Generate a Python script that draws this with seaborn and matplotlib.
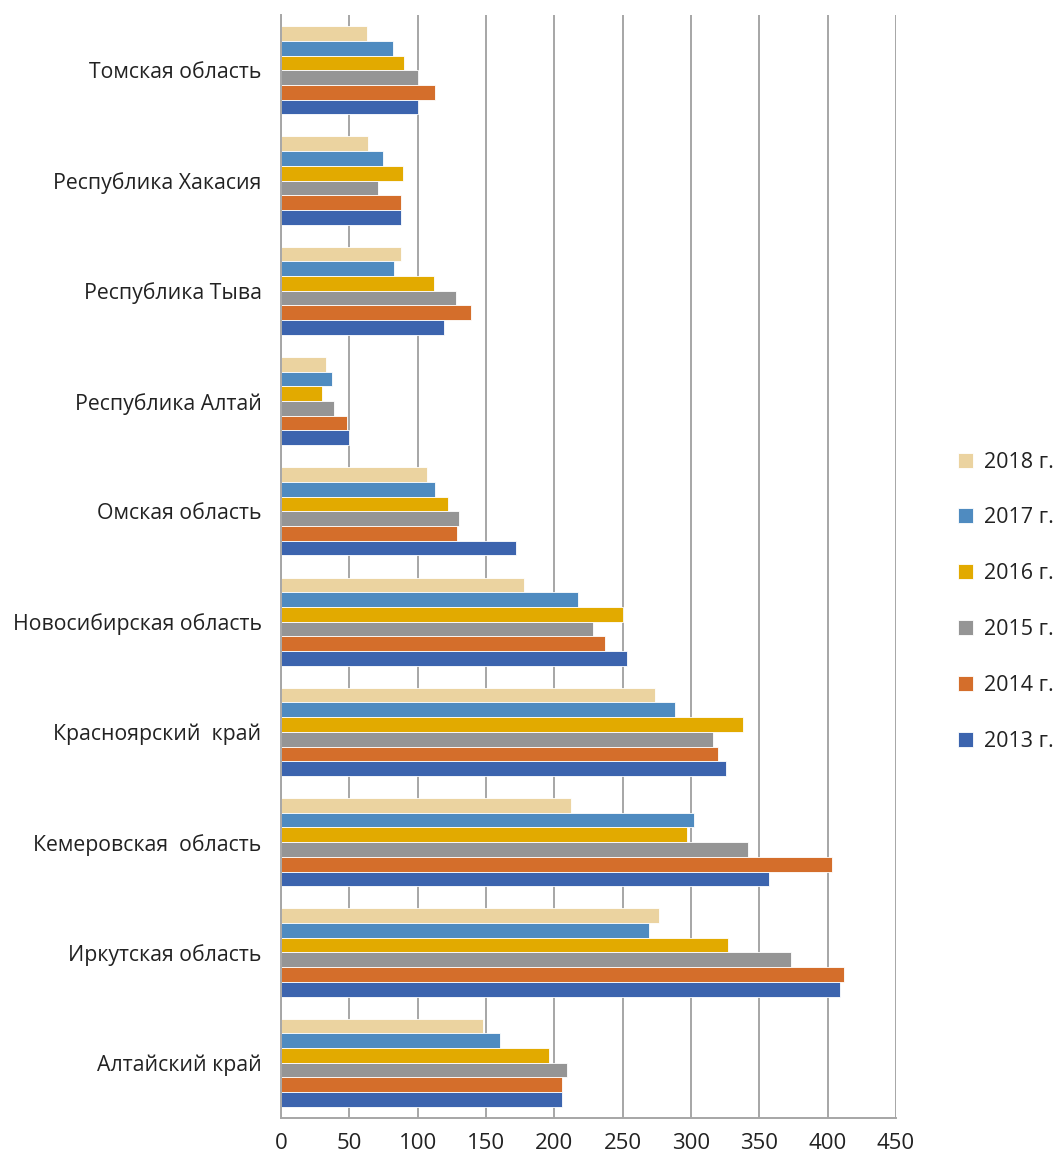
import numpy as np
import pandas as pd
import matplotlib
matplotlib.use('Agg')
import matplotlib.pyplot as plt
from matplotlib.ticker import FixedLocator
import seaborn as sns

# Регионы (сверху вниз) и годы
regions = ['Томская область', 'Республика Хакасия', 'Республика Тыва',
           'Республика Алтай', 'Омская область', 'Новосибирская область',
           'Красноярский  край', 'Кемеровская  область', 'Иркутская область',
           'Алтайский край']
years = ['2018 г.', '2017 г.', '2016 г.', '2015 г.', '2014 г.', '2013 г.']

v2013 = [100, 88, 119, 50, 172, 253, 326, 357, 409, 206]
v2014 = [113, 88, 139, 48, 129, 237, 320, 403, 412, 206]
v2015 = [100, 71, 128, 39, 130, 228, 316, 342, 373, 209]
v2016 = [90, 89, 112, 30, 122, 250, 338, 297, 327, 196]
v2017 = [82, 75, 83, 37, 113, 217, 288, 302, 269, 160]
v2018 = [63, 64, 88, 33, 107, 178, 274, 212, 277, 148]

colors = ['#EBD3A0', '#4F8BC0', '#E2AA00', '#959595', '#D46E2B', '#3C64AE']

values = {'2013 г.': v2013, '2014 г.': v2014, '2015 г.': v2015,
          '2016 г.': v2016, '2017 г.': v2017, '2018 г.': v2018}
rows = []
for y in years:
    for r, v in zip(regions, values[y]):
        rows.append({'region': r, 'year': y, 'value': v})
df = pd.DataFrame(rows)

sns.set_style('white')
plt.rcParams['font.family'] = ['Open Sans', 'DejaVu Sans']

fig = plt.figure(figsize=(10.59, 11.62), dpi=100)
ax = fig.add_axes([0.2653, 0.038, 0.5807, 0.949])

sns.barplot(data=df, y='region', x='value', hue='year', order=regions,
            hue_order=years, palette=colors, saturation=1, orient='h', width=0.8,
            edgecolor='white', linewidth=0.6, ax=ax)

ax.set_xlim(0, 450)
ax.set_ylim(len(regions) - 0.5, -0.5)
ax.set_xticks(np.arange(0, 451, 50))
ax.xaxis.grid(True, color='#A6A6A6', linewidth=1.4)
ax.set_axisbelow(True)
ax.set_xlabel('')
ax.set_ylabel('')

for s in ['top', 'right']:
    ax.spines[s].set_visible(False)
for s in ['left', 'bottom']:
    ax.spines[s].set_color('#A6A6A6')
    ax.spines[s].set_linewidth(1.4)

ax.tick_params(axis='y', which='major', length=0, pad=14, labelsize=15.3, colors='#222222')
ax.yaxis.set_minor_locator(FixedLocator(np.arange(-0.5, len(regions), 1)))
ax.tick_params(axis='y', which='minor', length=7, width=1.4, color='#A6A6A6', direction='out')
ax.tick_params(axis='x', which='major', length=6, width=1.4, color='#A6A6A6',
               direction='out', labelsize=16, labelcolor='#222222', pad=5)

handles, labels = ax.get_legend_handles_labels()
ax.legend(handles, labels, loc='center left', bbox_to_anchor=(1.07, 0.468),
          frameon=False, fontsize=15.5, handlelength=0.7, handleheight=0.7,
          handletextpad=0.5, labelspacing=1.62, labelcolor='#222222')

plt.savefig('out.png', dpi=100)
